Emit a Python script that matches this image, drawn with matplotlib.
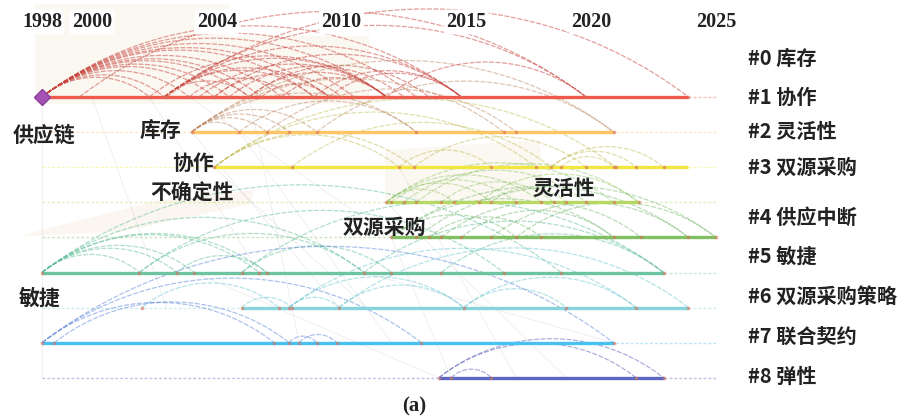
import numpy as np
import matplotlib
matplotlib.use("Agg")
import matplotlib.pyplot as plt
from matplotlib.patches import Polygon

# ---------------- data ----------------
year_ticks = [1998, 2000, 2005, 2010, 2015, 2020, 2025]
year_labels = ["1998", "2000", "2004", "2010", "2015", "2020", "2025"]

cluster_labels = ["#0 库存", "#1 协作", "#2 灵活性", "#3 双源采购", "#4 供应中断",
                  "#5 敏捷", "#6 双源采购策略", "#7 联合契约", "#8 弹性"]

keywords = ["供应链", "库存", "协作", "不确定性", "双源采购", "灵活性", "敏捷"]

# solid timeline spans (start year, end year) for each row
line_start = [1998.0, 2004.0, 2004.9, 2011.8, 2012.0, 1998.0, 2006.0, 1998.0, 2013.9]
line_end = [2023.9, 2020.9, 2023.9, 2021.9, 2025.0, 2022.9, 2023.9, 2020.9, 2022.9]

# co-citation arcs on each row (start year, end year)
arcs_r0 = [(1998, 2002.3), (1998, 2002.9), (1998, 2003.9), (1998, 2004.9), (1998, 2006.3),
           (1998, 2006.8), (1998, 2008.9), (1998, 2009.5), (1998, 2011.8), (1998, 2014.8),
           (1998, 2005.5), (1998, 2007.6), (1998, 2010.5), (1998, 2013.0),
           (2002.3, 2011.8), (2002.9, 2008.9), (2002.9, 2011.8), (2002.9, 2014.8),
           (2002.9, 2019.8), (2004.3, 2011.8), (2004.9, 2014.8), (2006.3, 2011.8),
           (2008.9, 2014.8), (1999.5, 2019.8), (2003.0, 2023.9), (2006.8, 2009.5),
           (2009.5, 2014.8), (2011.8, 2019.8), (2002.9, 2006.3), (2002.9, 2009.5),
           (2003.9, 2008.0), (2004.9, 2010.0), (2005.5, 2012.5), (2006.3, 2013.5),
           (2007.6, 2011.8)]
arcs_r1 = [(2004, 2005.9), (2004, 2007.0), (2004, 2007.9), (2004, 2009.0), (2004, 2013.0),
           (2004, 2016.5), (2004, 2020.9), (2005.9, 2013.0), (2007.0, 2017.0), (2009.0, 2020.9)]
arcs_r2 = [(2004.9, 2012.3), (2004.9, 2012.9), (2004.9, 2017.8), (2004.9, 2021.0),
           (2008.0, 2018.4), (2018.4, 2021.8), (2018.8, 2020.9), (2018.4, 2022.9),
           (2012.9, 2019.8), (2012.3, 2016.0)]
arcs_r3 = [(2011.8, 2014.5), (2011.8, 2016.0), (2011.8, 2018.0), (2011.8, 2020.9),
           (2012.5, 2019.8), (2013.0, 2021.9), (2014.0, 2018.5), (2015.5, 2021.9),
           (2016.0, 2019.0), (2012.0, 2017.0)]
arcs_r4 = [(2012.0, 2017.0), (2012.0, 2020.9), (2012.0, 2023.9), (2013.0, 2025.0),
           (2014.8, 2020.9), (2016.0, 2023.9), (2017.0, 2025.0), (2013.5, 2018.0),
           (2014.0, 2022.0)]
arcs_r5 = [(1998, 2001.9), (1998, 2003.4), (1998, 2004.1), (1998, 2006.7), (1998, 2007.0),
           (1998, 2010.9), (1998, 2018.8), (2001.9, 2010.9), (2001.9, 2016.5),
           (2003.4, 2007.0), (2006.0, 2012.0), (2006.0, 2022.9), (2010.9, 2022.9),
           (2014.0, 2022.9)]
arcs_r6 = [(2006.0, 2008.0), (2007.9, 2009.9), (2007.9, 2014.9), (2009.9, 2014.9),
           (2014.9, 2019.0), (2014.9, 2021.8), (2007.9, 2021.8), (2009.9, 2023.9),
           (2002.0, 2007.5)]
arcs_r7 = [(1998, 2020.9), (1998, 2013.2), (1998, 2007.3), (1998.5, 2007.9),
           (2007.9, 2009.0), (2008.3, 2009.8)]
arcs_r8 = [(2013.9, 2021.8), (2013.9, 2022.9), (2014.4, 2016.0)]
row_arcs = [arcs_r0, arcs_r1, arcs_r2, arcs_r3, arcs_r4, arcs_r5, arcs_r6, arcs_r7, arcs_r8]

# faint inter-cluster links (row a, year a, row b, year b)
links = [(0, 1998, 8, 1998), (0, 2002.3, 5, 2006.7), (1, 2004, 6, 2009.9), (0, 2006.3, 7, 2008.3),
         (5, 2004.1, 8, 2013.9), (2, 2004.9, 6, 2011.0), (3, 2011.8, 8, 2019.0),
         (4, 2012.0, 8, 2014.4), (0, 2003.9, 4, 2012.0), (5, 2010.9, 7, 2020.9),
         (0, 2000.0, 6, 2003.0), (1, 2005.9, 7, 2012.0), (2, 2012.3, 8, 2017.0)]

# burst shading regions (start year, end year, top row, bottom row)
shades = [(1997.7, 2005.5, -2.65, 0.2), (2005.5, 2011.1, -1.75, 0.2)]

# ---------------- style / layout ----------------
line_colors = ["#ee5a4c", "#ffc466", "#f2e640", "#b8d864", "#82bf62",
               "#6cc4a0", "#88d4de", "#48c0f2", "#5a66c2"]
arc_colors = ["#c8403a", "#b8805a", "#bcb84a", "#8cc460", "#6cb464",
              "#54b890", "#5cc2cc", "#4a78d6", "#4c52b4"]

PX_PER_YEAR = 24.96
PX_PER_ROW = 35.1
X0_PX, Y0_PX = 42.0, 97.0
W, H = 905, 418

def year_of(px):
    return 1998 + (px - X0_PX) / PX_PER_YEAR

def row_of(py):
    return (py - Y0_PX) / PX_PER_ROW

fig = plt.figure(figsize=(W / 100, H / 100), dpi=100)
ax = fig.add_axes([0, 0, 1, 1])
ax.set_xlim(year_of(0), year_of(W))
ax.set_ylim(row_of(H), row_of(0))
ax.axis("off")

# shading
for (a, b, t, btm) in shades:
    ax.add_patch(Polygon([(a, t), (b, t), (b, btm), (a, btm)], closed=True,
                         facecolor="#f8efe2", edgecolor="none", alpha=0.45, zorder=0))
ax.add_patch(Polygon([(year_of(18), row_of(236)), (year_of(160), row_of(200)),
                      (year_of(255), row_of(190)), (year_of(250), row_of(204)),
                      (year_of(120), row_of(232))], closed=True,
                     facecolor="#f8ecdc", edgecolor="none", alpha=0.45, zorder=0))
ax.add_patch(Polygon([(year_of(385), row_of(150)), (year_of(540), row_of(140)),
                      (year_of(545), row_of(200)), (year_of(385), row_of(200))], closed=True,
                     facecolor="#f8eee2", edgecolor="none", alpha=0.45, zorder=0))

# faint links
for (ra, ya, rb, yb) in links:
    ax.plot([ya, yb], [ra, rb], color="#b8b8b8", lw=0.5, alpha=0.3, zorder=1)

def arc_points(y0, y1, row):
    c = (y1 - y0) * PX_PER_YEAR
    h = 0.165 * c + 2.0
    R = (c * c / 4 + h * h) / (2 * h)
    th = np.arcsin(min(1.0, (c / 2) / R))
    phi = np.linspace(-th, th, 120)
    xm = (y0 + y1) / 2
    xs = xm + R * np.sin(phi) / PX_PER_YEAR
    up = R * np.cos(phi) - (R - h)
    ys = row - up / PX_PER_ROW
    return xs, ys

# timelines
for i in range(len(cluster_labels)):
    ax.plot([1998, 2025], [i, i], color=line_colors[i], lw=1.0, ls=(0, (2, 1.5)),
            alpha=0.4, zorder=1)
    ax.plot([line_start[i], line_end[i]], [i, i], color=line_colors[i], lw=2.4,
            solid_capstyle="butt", zorder=3)

# arcs
for i, arcs in enumerate(row_arcs):
    for (a, b) in arcs:
        xs, ys = arc_points(a, b, i)
        ax.plot(xs, ys, color=arc_colors[i], lw=0.9, ls=(0, (4, 1.2)),
                alpha=0.5 if i == 0 else 0.45, zorder=2)
    ends = sorted(set([p for ab in arcs for p in ab]))
    ax.plot(ends, [i] * len(ends), ls="none", marker="o", ms=1.6,
            color="#d8705a", alpha=0.5, zorder=4)

# diamond
ax.plot([1998], [0], marker="D", ms=8, color="#a552b5", mec="#8a3d9a", zorder=5)

# year labels
for yr, lab in zip(year_ticks, year_labels):
    ax.text(yr, row_of(22), lab, ha="center", va="center", fontsize=14.5,
            family="Liberation Serif", fontweight="bold", color="#222222", zorder=6,
            bbox=dict(boxstyle="round,pad=0.12", fc="white", ec="none"))

# cluster labels on the right
label_rows_px = [58, 97, 132, 167, 217, 256, 296, 336, 376]
for lab, py in zip(cluster_labels, label_rows_px):
    ax.text(year_of(748), row_of(py), lab, ha="left", va="center", fontsize=14.5,
            family=["Noto Sans CJK SC", "DejaVu Sans"], fontweight="bold", color="#222222", zorder=6)

# keyword labels
kw_pos_px = [(44, 135), (160, 130), (193, 163), (192, 193), (384, 227), (564, 188), (40, 298)]
for kw, (px, py) in zip(keywords, kw_pos_px):
    ax.text(year_of(px), row_of(py), kw, ha="center", va="center", fontsize=15,
            family=["Noto Sans CJK SC", "DejaVu Sans"], fontweight="bold", color="#222222", zorder=6)

ax.text(year_of(414), row_of(406), "(a)", ha="center", va="center", fontsize=15,
        family="Liberation Serif", fontweight="bold", color="#222222", zorder=6)

fig.savefig("out.png", dpi=100, facecolor="white")
